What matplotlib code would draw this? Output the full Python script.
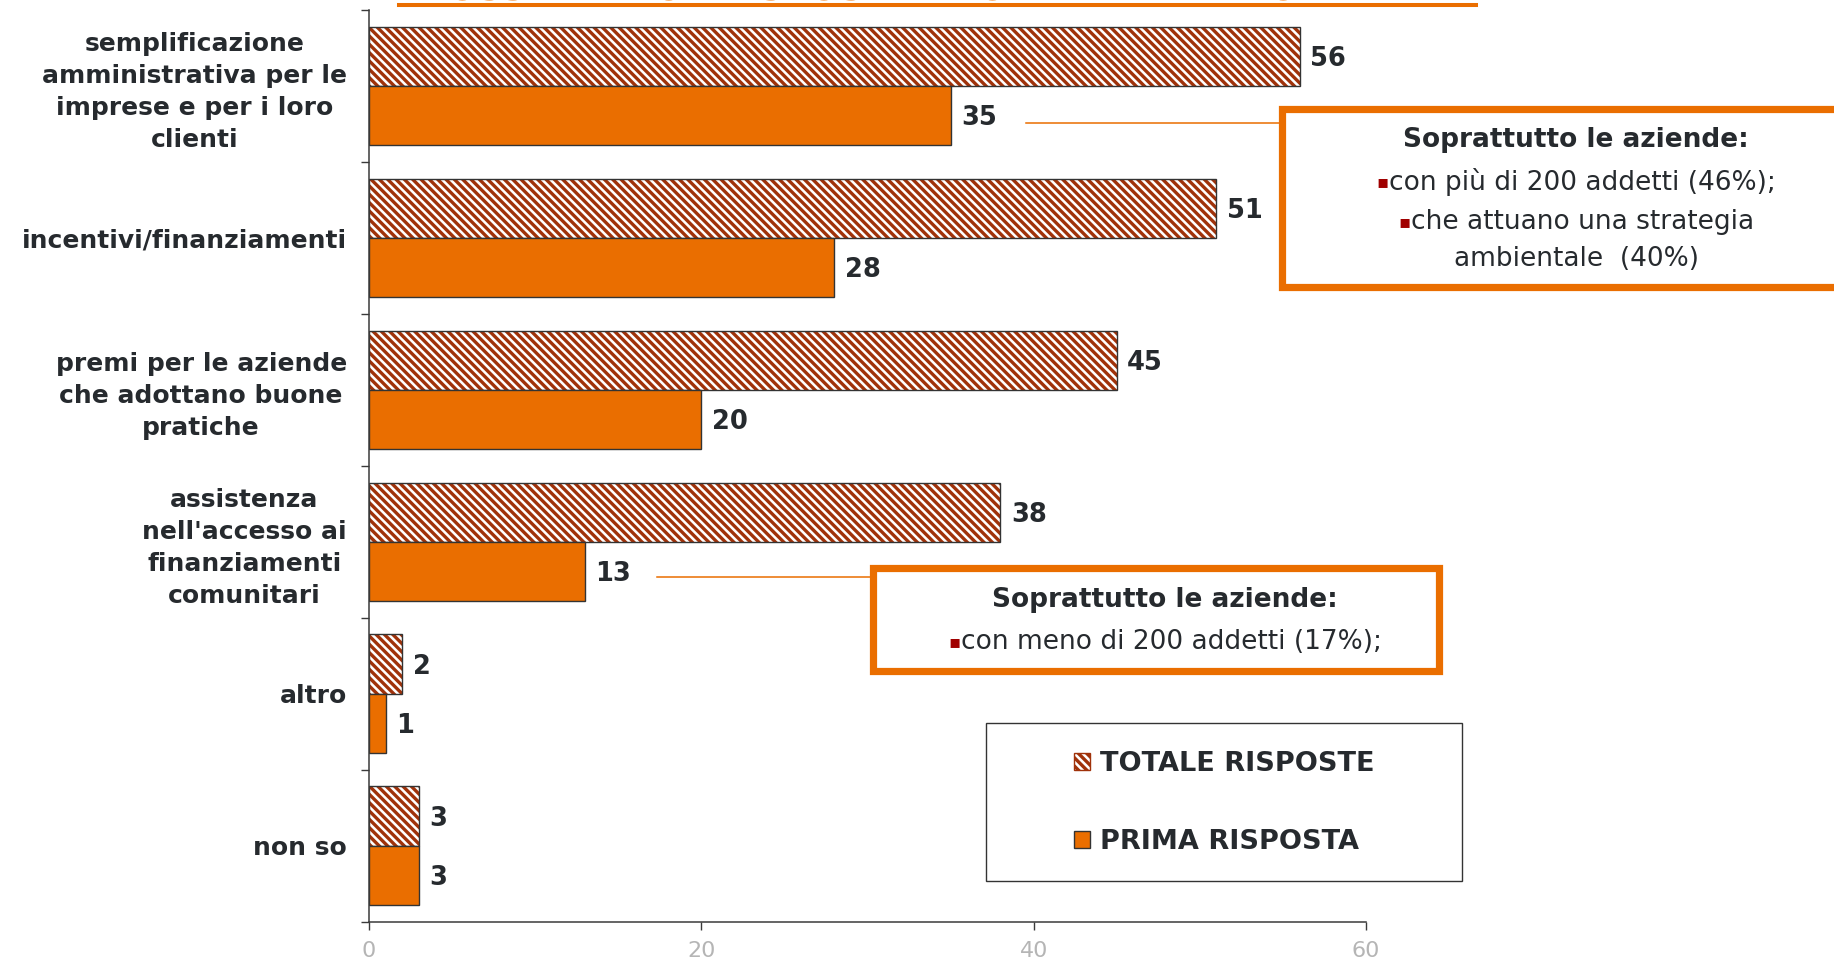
import numpy as np
import matplotlib
matplotlib.use("Agg")
import matplotlib.pyplot as plt
from matplotlib.patches import Rectangle, Patch
from matplotlib.lines import Line2D
from matplotlib.offsetbox import TextArea, HPacker, AnnotationBbox

# data
categories = ["semplificazione\namministrativa per le\nimprese e per i loro\nclienti",
              "incentivi/finanziamenti",
              "premi per le aziende\nche adottano buone\npratiche",
              "assistenza\nnell'accesso ai\nfinanziamenti\ncomunitari",
              "altro",
              "non so"]
totale = [56, 51, 45, 38, 2, 3]
prima = [35, 28, 20, 13, 1, 3]
series_names = ["TOTALE RISPOSTE", "PRIMA RISPOSTA"]
x_ticks = [0, 20, 40, 60]
title = "POSSIBILI DUE RISPOSTE IN ORDINE DI IMPORTANZA"

ORANGE = '#EA6E00'
HATCH = '#A0320A'
DARK = '#262a2e'
W, H = 1834, 960

plt.rcParams['hatch.linewidth'] = 2.4
plt.rcParams['font.family'] = ['DejaVu Sans']

fig = plt.figure(figsize=(W / 100, H / 100), dpi=100)

def fx(x):
    return x / W

def fy(y):
    return 1 - y / H

ax = fig.add_axes([fx(369), fy(921.6), fx(1366 - 369), (921.6 - 10) / H])

y = np.arange(len(categories))
bh = 0.39
ax.barh(y - bh / 2, totale, height=bh, color='white', edgecolor=HATCH, hatch='\\\\\\\\', lw=0)
ax.barh(y - bh / 2, totale, height=bh, fill=False, edgecolor='#333333', lw=1.0)
ax.barh(y + bh / 2, prima, height=bh, color=ORANGE, edgecolor='#333333', lw=1.0)

# value labels
for vals, off in ((totale, -bh / 2), (prima, bh / 2)):
    for i, v in enumerate(vals):
        ax.annotate(str(v), (v, i + off), xytext=(7.5, -2), textcoords='offset points',
                    ha='left', va='center', fontsize=18.5, fontweight='bold', color=DARK)

ax.set_xlim(0, 60)
ax.set_ylim(len(categories) - 0.5, -0.5)
ax.set_xticks(x_ticks)
ax.set_xticklabels([str(t) for t in x_ticks], color='#b5b5b5', fontsize=16)
ax.tick_params(axis='x', length=6, width=1, color='#3a3a3a', pad=8)

ax.set_yticks(y)
ax.set_yticklabels(categories, fontsize=18, fontweight='bold', color=DARK,
                   multialignment='center', linespacing=1.42)
ax.set_yticks(np.arange(len(categories) + 1) - 0.5, minor=True)
ax.tick_params(axis='y', which='major', length=0, pad=16)
ax.tick_params(axis='y', which='minor', length=6, width=1, color='#3a3a3a')

for s in ('top', 'right'):
    ax.spines[s].set_visible(False)
for s in ('left', 'bottom'):
    ax.spines[s].set_color('#3a3a3a')
    ax.spines[s].set_linewidth(1.1)

# title, cut at the top of the picture
fig.text(fx(937), fy(-1.0), title, ha='center', va='baseline', color=ORANGE,
         fontsize=25, fontweight='bold')
fig.add_artist(Line2D([fx(399), fx(1476)], [fy(5), fy(5)], color=ORANGE, lw=2.9))

# annotation boxes
def box(x0, y0, x1, y1):
    fig.add_artist(Rectangle((fx(x0), fy(y1)), fx(x1 - x0), (y1 - y0) / H,
                             transform=fig.transFigure, facecolor='white',
                             edgecolor=ORANGE, lw=5.2, clip_on=False))

def bullet_line(cx, cy, txt, size=19):
    b = TextArea("\u25aa", textprops=dict(color='#A00000', fontsize=13))
    t = TextArea(txt, textprops=dict(color=DARK, fontsize=size))
    pack = HPacker(children=[b, t], sep=0, pad=0, align='center')
    ab = AnnotationBbox(pack, (fx(cx), fy(cy)), xycoords='figure fraction',
                        box_alignment=(0.5, 0.5), frameon=False, pad=0)
    fig.add_artist(ab)

fig.add_artist(Line2D([fx(1026), fx(1282)], [fy(122.5), fy(122.5)], color=ORANGE, lw=1.1))
box(1282, 109, 1872, 287)
fig.text(fx(1576), fy(140), "Soprattutto le aziende:", ha='center', va='center',
         fontsize=19, fontweight='bold', color=DARK)
bullet_line(1576, 182, "con più di 200 addetti (46%);")
bullet_line(1576, 222, "che attuano una strategia")
fig.text(fx(1576), fy(259), "ambientale  (40%)", ha='center', va='center',
         fontsize=19, color=DARK)

fig.add_artist(Line2D([fx(657), fx(872)], [fy(577), fy(577)], color=ORANGE, lw=1.1))
box(872.5, 568.4, 1438.6, 671)
fig.text(fx(1165), fy(600), "Soprattutto le aziende:", ha='center', va='center',
         fontsize=19, fontweight='bold', color=DARK)
bullet_line(1165, 642, "con meno di 200 addetti (17%);")

# legend
fig.add_artist(Rectangle((fx(986), fy(881)), fx(1462 - 986), (881 - 723) / H,
                         transform=fig.transFigure, facecolor='white',
                         edgecolor='#333333', lw=1.0, clip_on=False))
handles = [Patch(facecolor='white', edgecolor=HATCH, hatch='\\\\\\\\', lw=1.0),
           Patch(facecolor=ORANGE, edgecolor='#333333', lw=1.0)]
fig.legend(handles, series_names, loc='center', bbox_to_anchor=(fx(1224), fy(803)),
           frameon=False, prop=dict(size=19.5, weight='bold'), labelcolor=DARK,
           handlelength=0.6, handleheight=0.6, handletextpad=0.35, labelspacing=1.9)

fig.savefig('out.png', dpi=100)
